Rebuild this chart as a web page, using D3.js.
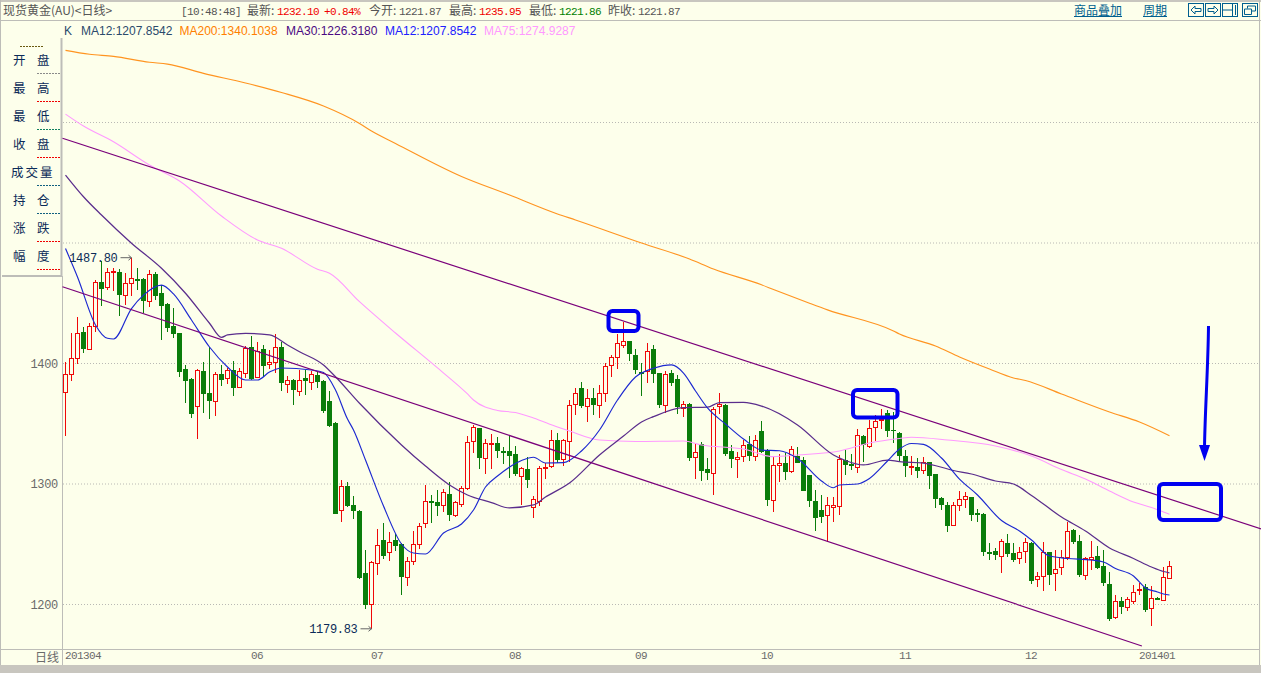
<!DOCTYPE html>
<html>
<head>
<meta charset="utf-8">
<script src="https://d3js.org/d3.v7.min.js"></script>
<style>
  html, body { margin: 0; padding: 0; background: #fdffeb; overflow: hidden; }
  text { font-family: "Liberation Mono", monospace; }
  .cn { font-family: "Noto Sans CJK SC", sans-serif; }
</style>
</head>
<body>
<div id="chart"></div>
<script>
//Data///////////////////////////////////////////////////////////////////////////////////////////

var opens = [
  1376.6,1391.0,1404.3,1426.2,1412.1,1430.9,1467.6,1463.8,1475.7,1475.7,
  1457.1,1467.1,1469.9,1470.1,1452.2,1474,1458.5,1449.4,1431.1,1425.3,
  1395.5,1387.2,1365,1393.8,1375.5,1369.2,1391.3,1388.3,1394.6,1380.8,
  1392.4,1413.4,1388.5,1412.1,1399.3,1401.5,1413.7,1382.7,1386.3,1377.5,
  1388,1384.9,1390.5,1385.5,1368.9,1350.3,1278.7,1298.1,1282.3,1277.6,
  1226.1,1200.7,1234.7,1253.5,1243.8,1253.5,1249.9,1222.5,1236.4,1249.9,
  1267.9,1285.9,1285.1,1282.8,1291.7,1274.5,1283.7,1297,1335.4,1346.5,
  1321.8,1333.5,1334,1327.1,1327.4,1324.9,1306.9,1312.4,1281.2,1286.2,
  1313,1315.2,1336.2,1321,1336,1366.7,1379.7,1365,1371.1,1365.8,
  1375.8,1398.5,1405.1,1415.6,1418.4,1407.1,1393,1393.5,1412,1391.8,
  1365.8,1392.4,1387.1,1363.4,1366.4,1322.1,1333.5,1312.5,1309.4,1364.5,
  1365.6,1327.4,1321,1323.5,1333.5,1323.5,1344,1328.2,1287,1316.1,
  1317.4,1311.1,1323,1319.9,1307.5,1285.9,1278.4,1274,1281.2,1281.5,
  1319.9,1316.6,1314.4,1339.8,1331.8,1347,1352.8,1358.6,1344.5,1342,
  1323.2,1314.1,1314.1,1311.9,1318.3,1308.3,1288.4,1282.6,1266.3,1282.3,
  1287.8,1289.2,1275.7,1274.8,1243.3,1244.1,1240.5,1251,1242.4,1238.3,
  1244.1,1251,1220.9,1223.9,1243.6,1225.9,1230.8,1239.1,1261.8,1252.4,
  1224.7,1238,1240.2,1231.9,1217,1189.9,1202.9,1198.2,1203.2,1211.7,
  1214.2,1197.4,1205.1,1203.5,1221.87
];
var closes = [
  1391,1404.3,1425.1,1412.3,1430.9,1467.4,1462.1,1475.7,1476.5,1456.9,
  1466.5,1470.7,1468.8,1452.2,1474,1456,1447.7,1429.5,1424.5,1393,
  1385.5,1358.1,1394.4,1374.7,1368.9,1391,1386.3,1394.4,1379.7,1393.5,
  1412.9,1387.2,1410.1,1397.9,1401,1413.4,1384.1,1386.1,1378,1386.1,
  1385.5,1391,1384.7,1360.6,1348.4,1275.1,1298.1,1281.7,1277.6,1222.3,
  1199.6,1235,1249.1,1240.3,1251.6,1248.5,1223.1,1235.8,1249.9,1264.9,
  1285.6,1284.5,1281.7,1293.1,1274.3,1284.8,1296.4,1334.6,1347,1321.8,
  1333.7,1334,1327.4,1326,1323.5,1308.3,1313,1303.6,1287.3,1313,
  1313.8,1336.2,1319.9,1336.2,1365.3,1375.8,1364.7,1371.1,1365.6,1375.8,
  1397.7,1405.1,1416.7,1418.4,1407.9,1394.6,1391.6,1410.7,1391.3,1365.6,
  1391,1383.8,1363.9,1366.7,1321.6,1326.8,1310.8,1309.1,1362,1366.1,
  1324.9,1320.8,1322.7,1332.7,1323.3,1336.3,1326.6,1286.7,1315.5,1317.2,
  1310.3,1329.1,1317.7,1294.5,1285.9,1271.8,1272.9,1282.3,1282.3,1320.5,
  1316,1314.9,1340.4,1332.4,1346.2,1352,1353.7,1344.3,1344,1323.2,
  1314.9,1314.9,1311.1,1318,1306.9,1287.8,1282.6,1265.4,1282.3,1287.3,
  1289.8,1274.3,1274.6,1243.6,1242.2,1241.1,1252.7,1242.2,1236.9,1243.3,
  1251.6,1219.8,1223.4,1243.3,1224.5,1229.7,1239.7,1261.3,1251.9,1224.5,
  1238.3,1239.7,1230.3,1217.8,1188.2,1202.6,1198.2,1204.3,1210.1,1212.6,
  1195.4,1205.1,1204,1222.5,1232.1
];
var highs = [
  1401.5,1425.1,1438.9,1430,1433.3,1469.3,1485.4,1479,1479,1478.2,
  1474.8,1487.8,1479,1470.7,1477.6,1476.2,1465.2,1449.9,1445.8,1425.6,
  1398.8,1387.7,1395.2,1401.5,1413.4,1393.2,1398.8,1396,1402.4,1396,
  1414.5,1422.8,1417.6,1415.4,1411.2,1424.5,1418.1,1389.6,1386.9,1394.6,
  1394.6,1393.8,1393.8,1386.3,1377.2,1351.4,1303.3,1301.4,1290,1278.4,
  1245.2,1235.8,1262.7,1267.4,1259.9,1258.2,1250.8,1239.1,1261,1267.9,
  1299.2,1290.9,1295,1295.6,1301.4,1285.9,1298.3,1339.8,1349,1346.7,
  1337.1,1341.5,1339.3,1331,1340.1,1331.5,1314.4,1322.1,1290,1315.2,
  1317.1,1344.8,1342.6,1337.3,1369.7,1380,1384.4,1378.6,1379.4,1382.2,
  1400.1,1407.1,1424.2,1434.7,1418.4,1411.8,1400.1,1417,1415.4,1392.4,
  1393.8,1394.6,1390.5,1368.9,1367,1333.8,1334.6,1321.3,1363.6,1375.3,
  1366.1,1332.4,1326.8,1336.5,1340.1,1340.7,1352,1328.8,1322.7,1324.6,
  1325.5,1331.6,1330.4,1322.7,1307.5,1295,1290.9,1288.9,1289.5,1324.3,
  1328.2,1324.9,1345.4,1340.7,1353.1,1357.3,1362,1361.4,1360,1343.4,
  1328.2,1323.2,1321.3,1322.1,1318.5,1308.3,1289.5,1285.3,1285.3,1294.5,
  1293.6,1289.5,1279,1275.7,1250.8,1246.6,1254.1,1258.5,1250.7,1247.4,
  1254.9,1252.1,1226.7,1252.1,1243.6,1245.2,1245.2,1268.7,1262.4,1257.7,
  1239.1,1252.7,1248.5,1245.2,1226.7,1207.9,1206.5,1206.5,1216.2,1218.1,
  1217,1215.3,1205.9,1230.8,1235.95
];
var lows = [
  1340.1,1385.8,1399.6,1408.5,1411.2,1426.4,1447.7,1461,1460.2,1439.4,
  1448.6,1456,1461,1442.2,1447.2,1452.7,1419.5,1426.4,1421.5,1388.5,
  1367.5,1354.5,1337.4,1359.2,1354.2,1356.7,1381.6,1383,1373.3,1379.4,
  1388.3,1386.3,1387.7,1389.1,1395.7,1391.9,1377.5,1375.8,1365.6,1373.1,
  1373.9,1378,1379.4,1359.2,1347.6,1275.1,1268.7,1281.2,1271,1221.2,
  1196.3,1179.83,1224.5,1237.5,1236.1,1244.4,1207.9,1215.4,1232.8,1246.1,
  1263.8,1267.9,1273.7,1276.8,1269.6,1272.9,1281.2,1295,1326,1312.4,
  1308.3,1312.2,1321.8,1316.6,1305.3,1306.6,1282.6,1297,1272.1,1281.7,
  1304.1,1313.6,1317.7,1315.2,1318.5,1357.3,1362.8,1351.7,1357.3,1355.1,
  1368.3,1389.1,1395.2,1413.1,1402.4,1391.3,1373,1384.1,1384.1,1363.4,
  1358.7,1381.3,1358.1,1355.9,1319.4,1304.2,1302.5,1303.3,1290.9,1358.1,
  1323.5,1313,1305.3,1318.5,1319.1,1319.1,1325.5,1282,1277.1,1301.7,
  1303.3,1308.9,1317.2,1294.5,1281.2,1261.3,1267.9,1251.6,1268.2,1274.6,
  1307.5,1311.6,1309.4,1318.5,1330.2,1335.7,1345.4,1338.7,1334.3,1318.5,
  1306.1,1307.5,1305.3,1308.3,1296.1,1280.1,1278.4,1260.4,1265.4,1277.6,
  1279.8,1269.3,1268.7,1240.5,1236.9,1236.9,1226.4,1239.1,1235.5,1233.6,
  1234.2,1217,1214.8,1211.5,1216.2,1211.5,1224.5,1236.9,1250.2,1222.5,
  1220.3,1228.6,1229.2,1215.3,1186.6,1188,1192.1,1194.6,1200.4,1207.9,
  1193.8,1182.2,1203.7,1203.5,1221.86
];

// moving averages, [candle index, price]
var ma200 = [[0,1659.9],[4,1656.6],[8,1654.9],[14,1650],[17,1648.5],[23,1640.8],[30,1632.8],[36,1624.9],[43,1613.7],[49,1599.2],[51,1592.9],[55,1582.6],[66,1555.2],[74,1539.8],[82,1524.1],[85,1519.1],[96,1500],[104,1486.7],[108,1478.4],[116,1465.3],[118,1461.4],[124,1450],[127,1444.5],[138,1427],[139,1424.5],[145,1414.5],[149,1405.4],[154,1395.4],[158,1388],[160,1385.9],[166,1374.7],[174,1359.8],[179,1351.5],[184,1340.1]];
var ma75 = [[0,1607],[3,1597.1],[8,1584],[14,1564.7],[19,1551.5],[26,1522.4],[32,1502.5],[36,1495.6],[42,1478.2],[44,1474.9],[49,1451.3],[55,1425.3],[62,1396.3],[67,1374.7],[68,1369.7],[72,1361],[75,1359.3],[78,1354.8],[82,1347.3],[84,1344],[89,1336.5],[95,1335.3],[103,1335.7],[106,1332.4],[113,1329],[118,1322.7],[122,1324.1],[129,1327.4],[134,1334],[139,1337.8],[141,1338.8],[147,1336.5],[155,1331.5],[161,1323.2],[166,1312],[170,1304.1],[174,1294.2],[178,1285.1],[181,1280.5],[183,1276.8],[184,1274.9]];
var ma30 = [[0,1556.4],[3,1538.4],[6,1523.2],[11,1499.8],[16,1479],[20,1458.3],[24,1433.4],[26,1421.7],[27,1423.7],[30,1425],[34,1423.7],[37,1415.4],[39,1409.8],[43,1398.8],[45,1389],[49,1367],[56,1332.4],[60,1314.9],[64,1299.2],[67,1290.9],[71,1284.6],[74,1280.1],[78,1282.6],[80,1289.2],[84,1300.8],[89,1324.1],[93,1339.8],[96,1351.5],[98,1355.9],[103,1363.3],[107,1363.7],[109,1367.6],[113,1367.8],[116,1364.7],[122,1349],[128,1324.1],[130,1319.5],[133,1315.8],[137,1319.9],[139,1318.5],[143,1317.4],[148,1311.2],[151,1308.3],[155,1302.5],[158,1300],[161,1290.5],[166,1272.6],[170,1261],[174,1246.9],[178,1238.2],[181,1231.1],[183,1227.4],[184,1226.3]];
var ma12 = [[0,1495.4],[2,1471.8],[5,1432],[7,1420.9],[8,1420.3],[11,1445.6],[13,1456.8],[16,1465.1],[18,1457.7],[21,1436.1],[24,1413.7],[27,1397.1],[30,1386.3],[32,1386.3],[34,1392.9],[36,1396.3],[41,1394.6],[43,1392.5],[45,1378],[47,1353.9],[48,1344.8],[50,1319.9],[53,1281.7],[56,1250.2],[58,1242.7],[60,1241.9],[63,1259.3],[66,1266.8],[68,1278.4],[70,1297.5],[72,1306.6],[76,1319.5],[78,1322.2],[80,1317.4],[83,1317.7],[86,1327.4],[89,1344.8],[92,1369.7],[95,1388.8],[98,1396],[101,1398.8],[103,1392.1],[105,1377.2],[107,1363.1],[110,1349.8],[113,1337.3],[116,1328.2],[119,1327.6],[122,1321.2],[126,1302.5],[128,1296.9],[129,1299.2],[132,1300],[134,1304.6],[137,1319.1],[139,1329],[141,1333.6],[143,1332.9],[146,1321.6],[149,1304.1],[152,1290.9],[156,1269.7],[159,1261],[161,1253.5],[164,1240.2],[167,1238.2],[171,1236.9],[173,1235.3],[175,1229.9],[178,1223.7],[180,1213.7],[182,1210.4],[183,1208.7],[184,1207.85]];

// hand drawn trend lines, [candle index, price] at both ends
var trendUpper = [[-0.5,1586.9],[199.3,1262.7]];
var trendLower = [[-0.5,1463.7],[179.4,1165.6]];

var yTicks = [1200,1300,1400];
var gridPrices = [1200,1300,1400,1500,1600];
var xTickIndex = [0,31,51,74,95,116,139,160,179];
var xTickLabels = ["201304","06","07","08","09","10","11","12","201401"];
var sideLabels = [["开","盘"],["最","高"],["最","低"],["收","盘"],["成交量"],["持","仓"],["涨","跌"],["幅","度"]];
var sideDashColors = ["#8a8a8a","#f00000","#108060","#f00000","#106080","#106080","#f00000","#f00000"];
var quoteParts = [
  {text:"[10:48:48]", at:181, fill:"#555"}, {text:"最新:", at:247, fill:"#555", cn:1},
  {text:"1232.10", at:277, fill:"#f00000"}, {text:"+0.84%", at:324, fill:"#f00000"},
  {text:"今开:", at:369, fill:"#555", cn:1}, {text:"1221.87", at:399, fill:"#555"},
  {text:"最高:", at:449, fill:"#555", cn:1}, {text:"1235.95", at:479, fill:"#f00000"},
  {text:"最低:", at:529, fill:"#555", cn:1}, {text:"1221.86", at:559, fill:"#008000"},
  {text:"昨收:", at:608, fill:"#555", cn:1}, {text:"1221.87", at:638, fill:"#555"}
];
var legendParts = [
  {text:"K", at:64, fill:"#2b4a6b"}, {text:"MA12:1207.8542", at:81, fill:"#2b4a6b"},
  {text:"MA200:1340.1038", at:179.5, fill:"#ff8000"}, {text:"MA30:1226.3180", at:286, fill:"#4b0a82"},
  {text:"MA12:1207.8542", at:385, fill:"#2020ff"}, {text:"MA75:1274.9287", at:484, fill:"#ff99ff"}
];

//Adding Graph & scales///////////////////////////////////////////////////////////////////////////

var W = 1261, H = 673;
var bg = "#fdffeb", frame = "#bdbdb8", red = "#f00808", green = "#0a7d0a", tickGray = "#6a6a6a", navy = "#0b2b58";

var svg = d3.select("#chart").append("svg")
  .attr("width", W).attr("height", H)
  .style("display", "block");

var x = d3.scaleLinear().domain([0,184]).range([65.5,1169.5]);
var y = d3.scaleLinear().domain([1200,1600]).range([604.5,122.5]);

svg.append("rect").attr("width", W).attr("height", H).attr("fill", bg);

// frame
svg.append("rect").attr("width", W).attr("height", 2).attr("fill", "#c8c6bf");
svg.append("rect").attr("y", 665).attr("width", W).attr("height", 8).attr("fill", "#c8c6bf");
function hline(y0, x0, x1, w) {
  svg.append("line").attr("x1", x0).attr("x2", x1).attr("y1", y0).attr("y2", y0)
    .attr("stroke", frame).attr("stroke-width", w || 1);
}
function vline(x0, y0, y1, w) {
  svg.append("line").attr("x1", x0).attr("x2", x0).attr("y1", y0).attr("y2", y1)
    .attr("stroke", frame).attr("stroke-width", w || 1);
}
hline(20.5, 0, W);
hline(649.5, 0, 1259);
vline(0.5, 0, 665);
vline(1259.5, 0, 665);
vline(62.5, 649, 665);
vline(62.5, 276, 649);
vline(61.5, 38, 276, 2);
hline(276, 2, 62, 2);

// grid
svg.append("g").selectAll("line").data(gridPrices).enter().append("line")
  .attr("x1", 63).attr("x2", 1259)
  .attr("y1", function(d) { return y(d); }).attr("y2", function(d) { return y(d); })
  .attr("stroke", "#b9b9b4").attr("stroke-dasharray", "1,2");

//Axis///////////////////////////////////////////////////////////////////////////////////////////

var yAxis = svg.append("g").attr("transform", "translate(60,0)")
  .call(d3.axisLeft(y).tickValues(yTicks).tickFormat(d3.format("d")).tickSize(0).tickPadding(2));
yAxis.select(".domain").remove();
yAxis.selectAll("text").attr("fill", tickGray)
  .style("font-family", "Liberation Mono").style("font-size", "12px").style("letter-spacing", "-0.3px");

var xAxis = svg.append("g").attr("transform", "translate(-1,649)")
  .call(d3.axisBottom(x).tickValues(xTickIndex)
    .tickFormat(function(d, i) { return xTickLabels[i]; }).tickSize(0).tickPadding(2));
xAxis.select(".domain").remove();
xAxis.selectAll("text").attr("fill", tickGray).attr("text-anchor", "start")
  .style("font-family", "Liberation Mono").style("font-size", "11px").style("letter-spacing", "-0.6px");

svg.append("text").attr("class", "cn").attr("x", 35).attr("y", 662)
  .attr("fill", tickGray).style("font-size", "12px").text("日线");

//Candles////////////////////////////////////////////////////////////////////////////////////////

var candles = svg.append("g").selectAll("g").data(opens).enter().append("g");

candles.append("line")
  .attr("x1", function(d, i) { return x(i); })
  .attr("x2", function(d, i) { return x(i); })
  .attr("y1", function(d, i) { return Math.round(y(highs[i])); })
  .attr("y2", function(d, i) { return Math.round(y(lows[i])); })
  .attr("stroke", function(d, i) { return closes[i] >= opens[i] ? red : green; })
  .attr("stroke-width", 1)
  .attr("shape-rendering", "crispEdges");

candles.each(function(d, i) {
  var up = closes[i] >= opens[i];
  var top = Math.round(y(Math.max(opens[i], closes[i])));
  var bot = Math.round(y(Math.min(opens[i], closes[i])));
  if (up) {
    // up days are hollow
    d3.select(this).append("rect")
      .attr("x", x(i) - 2).attr("width", 4)
      .attr("y", top + 0.5).attr("height", Math.max(bot - top, 1))
      .attr("fill", bg).attr("stroke", red)
      .attr("shape-rendering", "crispEdges");
  } else {
    d3.select(this).append("rect")
      .attr("x", x(i) - 2.5).attr("width", 5)
      .attr("y", top).attr("height", Math.max(bot - top, 1))
      .attr("fill", green)
      .attr("shape-rendering", "crispEdges");
  }
});

//Lines//////////////////////////////////////////////////////////////////////////////////////////

var lineGen = d3.line()
  .x(function(d) { return x(d[0]); })
  .y(function(d) { return y(d[1]); });
var smoothGen = d3.line()
  .x(function(d) { return x(d[0]); })
  .y(function(d) { return y(d[1]); })
  .curve(d3.curveMonotoneX);

function drawLine(points, gen, color, w) {
  svg.append("path").attr("d", gen(points))
    .attr("fill", "none").attr("stroke", color).attr("stroke-width", w);
}
drawLine(ma200, smoothGen, "#ff9420", 1.15);
drawLine(ma75, smoothGen, "#ff99ff", 1.05);
drawLine(ma30, smoothGen, "#5a2d8c", 1.25);
drawLine(ma12, smoothGen, "#1c28d0", 1.15);
drawLine(trendUpper, lineGen, "#7a007a", 1.2);
drawLine(trendLower, lineGen, "#7a007a", 1.2);

// high / low price flags
function priceFlag(idx, price, label) {
  var px = x(idx), py = y(price);
  svg.append("text").attr("x", px - 14).attr("y", py + 4).attr("text-anchor", "end")
    .attr("fill", navy).style("font-size", "12px").style("letter-spacing", "-0.3px").text(label);
  svg.append("path")
    .attr("d", "M" + (px - 11) + "," + py + "H" + px + "M" + (px - 3) + "," + (py - 2.5) + "L" + px + "," + py + "L" + (px - 3) + "," + (py + 2.5))
    .attr("fill", "none").attr("stroke", "#666");
}
priceFlag(11, 1487.8, "1487.80");
priceFlag(51, 1179.83, "1179.83");

//Annotations////////////////////////////////////////////////////////////////////////////////////

function box(x0, y0, x1, y1) {
  svg.append("rect").attr("x", x0).attr("y", y0).attr("width", x1 - x0).attr("height", y1 - y0)
    .attr("rx", 4).attr("ry", 4)
    .attr("fill", "none").attr("stroke", "#0000f0").attr("stroke-width", 4);
}
box(608.5, 311, 638.5, 331);
box(853, 390, 897.5, 417.5);
box(1159, 484, 1221, 520);

svg.append("path").attr("d", "M1208.5,326C1208,370 1205,410 1204.5,448")
  .attr("fill", "none").attr("stroke", "#0000f0").attr("stroke-width", 3);
svg.append("path").attr("d", "M1199,445L1210,445L1204.5,461Z").attr("fill", "#0000f0");

//Header/////////////////////////////////////////////////////////////////////////////////////////

svg.append("text").attr("class", "cn").attr("x", 3).attr("y", 15)
  .attr("fill", "#555").style("font-size", "12px").text("现货黄金(AU)<日线>");

svg.append("g").selectAll("text").data(quoteParts).enter().append("text")
  .attr("class", function(d) { return d.cn ? "cn" : null; })
  .attr("x", function(d) { return d.at; }).attr("y", 15)
  .attr("fill", function(d) { return d.fill; })
  .style("font-size", function(d) { return d.cn ? "12px" : "11px"; })
  .style("letter-spacing", function(d) { return d.cn ? null : "-0.6px"; })
  .text(function(d) { return d.text; });

svg.append("g").selectAll("text").data(legendParts).enter().append("text")
  .attr("x", function(d) { return d.at; }).attr("y", 35)
  .attr("fill", function(d) { return d.fill; })
  .style("font-family", "Liberation Sans").style("font-size", "12px")
  .text(function(d) { return d.text; });

// top right buttons
var linkBlue = "#005f8f";
[["商品叠加",1074,48],["周期",1143,24]].forEach(function(b) {
  svg.append("text").attr("class", "cn").attr("x", b[1]).attr("y", 15)
    .attr("fill", linkBlue).style("font-size", "12px").text(b[0]);
  svg.append("line").attr("x1", b[1]).attr("x2", b[1] + b[2]).attr("y1", 16.5).attr("y2", 16.5)
    .attr("stroke", linkBlue);
});
[[1188.5,15],[1205.5,15],[1222.5,15],[1242.5,15]].forEach(function(b) {
  svg.append("rect").attr("x", b[0]).attr("y", 3.5).attr("width", b[1]).attr("height", 13)
    .attr("fill", "none").attr("stroke", linkBlue);
});
svg.append("path").attr("d", "M1191,10L1195,6V8.5H1201V11.5H1195V14Z").attr("fill", "none").attr("stroke", linkBlue);
svg.append("path").attr("d", "M1218,10L1214,6V8.5H1208V11.5H1214V14Z").attr("fill", "none").attr("stroke", linkBlue);
svg.append("path").attr("d", "M1232.5,4V16M1223,10H1232M1235.5,5V15").attr("fill", "none").attr("stroke", linkBlue);
svg.append("path").attr("d", "M1247.5,8.5V6H1255.5V11H1251M1244.5,9H1251.5V14.5H1244.5Z").attr("fill", "none").attr("stroke", linkBlue);

//Left panel/////////////////////////////////////////////////////////////////////////////////////

svg.append("line").attr("x1", 20).attr("x2", 43).attr("y1", 46.5).attr("y2", 46.5)
  .attr("stroke", "#6a5a10").attr("stroke-dasharray", "2,1");

var rows = svg.append("g").selectAll("g").data(sideLabels).enter().append("g")
  .attr("transform", function(d, i) { return "translate(0," + (65 + i * 28) + ")"; });
rows.append("text").attr("class", "cn")
  .attr("x", function(d) { return d.length == 1 ? 11 : 13; })
  .attr("fill", navy).style("font-size", "12.5px")
  .attr("letter-spacing", function(d) { return d.length == 1 ? "2px" : null; })
  .text(function(d) { return d[0]; });
rows.filter(function(d) { return d.length == 2; }).append("text").attr("class", "cn")
  .attr("x", 37).attr("fill", navy).style("font-size", "12.5px")
  .text(function(d) { return d[1]; });
rows.append("line").attr("x1", 37).attr("x2", 61).attr("y1", 8.5).attr("y2", 8.5)
  .attr("stroke", function(d, i) { return sideDashColors[i]; }).attr("stroke-dasharray", "2,1");
</script>
</body>
</html>
